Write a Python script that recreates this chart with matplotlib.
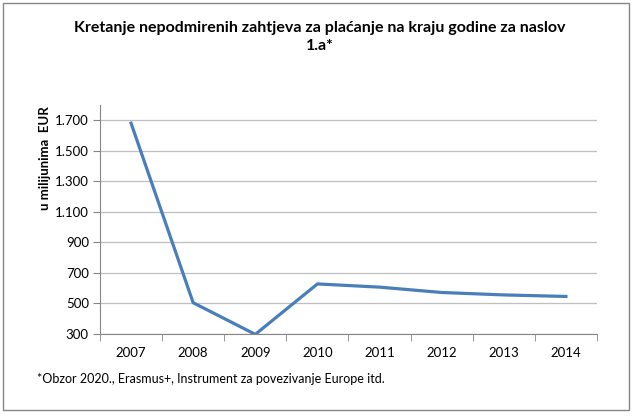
import matplotlib
matplotlib.use("Agg")
import matplotlib.pyplot as plt
from matplotlib.patches import Rectangle

years = ["2007", "2008", "2009", "2010", "2011", "2012", "2013", "2014"]
values = [1680, 505, 298, 628, 607, 572, 556, 546]
yticks = [300, 500, 700, 900, 1100, 1300, 1500, 1700]
ytick_labels = ["300", "500", "700", "900", "1.100", "1.300", "1.500", "1.700"]

plt.rcParams["font.family"] = ["Lato", "DejaVu Sans"]

fig = plt.figure(figsize=(6.34, 4.16), dpi=100)
fig.patches.append(Rectangle((0.004, 0.014), 0.988, 0.979, transform=fig.transFigure,
                             fill=False, edgecolor="#868686", linewidth=1.0))

ax = fig.add_axes([0.1577, 0.197, 0.7839, 0.551])
x = list(range(len(years)))
ax.plot(x, values, color="#4a7ebb", linewidth=2.3, solid_joinstyle="round")

ax.set_xlim(-0.5, 7.5)
ax.set_ylim(300, 1800)
ax.set_yticks(yticks)
ax.set_yticklabels(ytick_labels, fontsize=9.5)
ax.set_xticks(x)
ax.set_xticklabels(years, fontsize=9.5)
ax.set_xticks([i - 0.5 for i in range(len(years) + 1)], minor=True)
ax.tick_params(axis="x", which="major", length=0, pad=9)
ax.tick_params(axis="x", which="minor", length=5, color="#868686", direction="out")
ax.tick_params(axis="y", length=5, color="#868686", direction="out", pad=3)
ax.grid(axis="y", color="#bfbfbf", linewidth=0.9)
for side in ["top", "right"]:
    ax.spines[side].set_visible(False)
for side in ["left", "bottom"]:
    ax.spines[side].set_color("#868686")

fig.text(0.505, 0.911, "Kretanje nepodmirenih zahtjeva za plaćanje na kraju godine za naslov\n1.a*",
         ha="center", va="center", fontsize=11.5, fontweight="bold", linespacing=1.45)
fig.text(0.071, 0.62, "u milijunima  EUR", rotation=90, ha="center", va="center",
         fontsize=9.5, fontweight="bold")
fig.text(0.058, 0.09, "*Obzor 2020., Erasmus+, Instrument za povezivanje Europe itd.",
         ha="left", va="center", fontsize=9)

fig.savefig("out.png", dpi=100)
